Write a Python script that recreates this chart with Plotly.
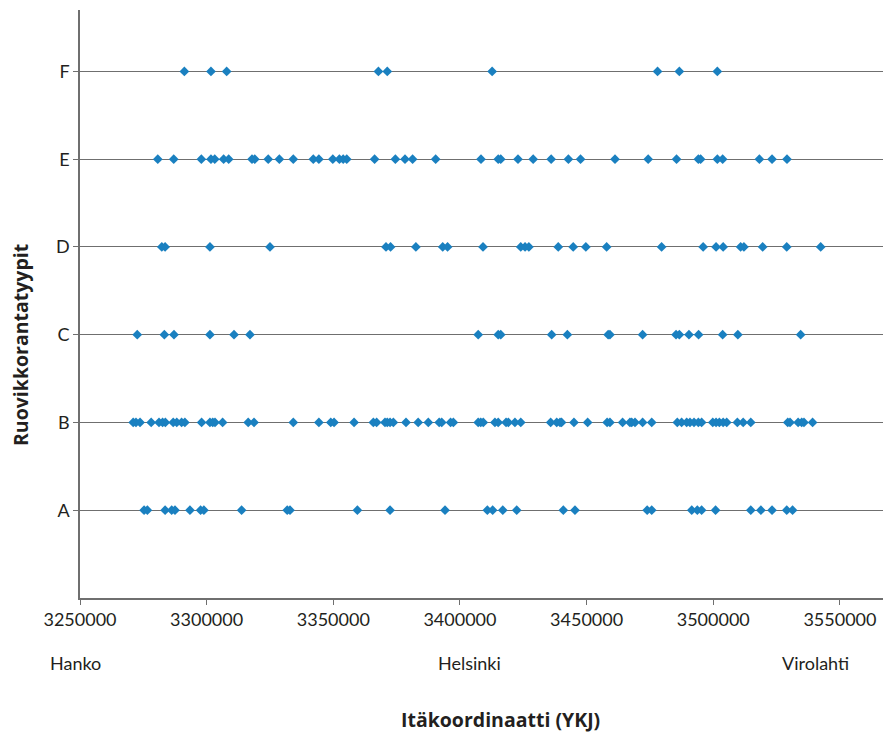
import plotly.graph_objects as go

# Data (x-coordinates in thousands, YKJ easting)
categories = ["A", "B", "C", "D", "E", "F"]

A_x = [3275.3, 3276.6, 3283.6, 3286.2, 3287.5, 3293.4, 3297.6, 3298.9, 3313.8, 3331.8,
       3332.9, 3359.5, 3372.4, 3394.1, 3410.8, 3412.9, 3416.9, 3422.4, 3440.8, 3445.4,
       3473.9, 3475.7, 3491.5, 3493.7, 3495.4, 3500.9, 3514.8, 3518.8, 3523.2, 3529.0, 3531.3]

B_x = [3271.0, 3272.1, 3273.7, 3278.1, 3281.2, 3282.6, 3283.7, 3286.8, 3288.2, 3290.1,
       3291.4, 3298.0, 3301.3, 3302.4, 3303.3, 3306.3, 3316.4, 3318.7, 3334.2, 3344.3,
       3349.0, 3350.3, 3358.2, 3365.8, 3367.1, 3370.4, 3371.3, 3372.4, 3373.7, 3378.7,
       3383.5, 3387.5, 3391.8, 3392.8, 3396.3, 3397.4, 3407.2, 3408.2, 3409.2, 3413.8,
       3415.1, 3418.2, 3419.1, 3421.7, 3424.0, 3435.8, 3438.2, 3439.5, 3440.1, 3445.0,
       3450.4, 3458.1, 3459.2, 3464.2, 3467.1, 3467.8, 3469.1, 3472.1, 3475.7, 3485.8,
       3487.5, 3489.5, 3490.8, 3492.4, 3494.1, 3495.4, 3499.8, 3501.1, 3502.4, 3503.9,
       3505.3, 3509.5, 3511.8, 3514.8, 3529.4, 3530.3, 3533.5, 3534.9, 3535.8, 3539.2]

C_x = [3272.6, 3283.3, 3287.1, 3301.3, 3310.8, 3317.1, 3407.2, 3415.1, 3416.1, 3436.2,
       3442.4, 3458.5, 3459.2, 3472.1, 3485.3, 3486.6, 3490.4, 3494.2, 3503.7, 3509.7, 3534.5]

D_x = [3282.3, 3283.6, 3301.3, 3325.0, 3370.8, 3372.6, 3382.6, 3393.2, 3395.1, 3409.1,
       3424.0, 3425.7, 3427.2, 3438.8, 3444.7, 3449.7, 3457.9, 3479.6, 3496.0, 3501.1,
       3503.9, 3510.8, 3512.1, 3519.5, 3529.0, 3542.4]

E_x = [3280.7, 3287.0, 3297.9, 3301.7, 3303.2, 3306.7, 3308.7, 3317.9, 3319.0, 3324.3,
       3328.7, 3334.2, 3342.1, 3344.3, 3349.8, 3352.4, 3353.9, 3355.3, 3366.3, 3374.5,
       3378.3, 3381.3, 3390.4, 3408.3, 3415.1, 3416.1, 3422.9, 3428.9, 3436.0, 3442.8,
       3447.6, 3461.2, 3474.3, 3485.5, 3494.1, 3495.0, 3501.6, 3503.7, 3518.2, 3523.2, 3529.1]

F_x = [3291.2, 3301.7, 3307.9, 3367.8, 3371.3, 3412.7, 3478.0, 3486.6, 3501.6]

series_x = [A_x, B_x, C_x, D_x, E_x, F_x]

x_ticks = [3250000, 3300000, 3350000, 3400000, 3450000, 3500000, 3550000]
place_names = ["Hanko", "Helsinki", "Virolahti"]

FONT = "Lato"
TITLE_FONT = "Open Sans"
COLOR = "#1a80c0"

xs, ys = [], []
for i, vals in enumerate(series_x):
    for v in vals:
        xs.append(v * 1000)
        ys.append(i + 1)

fig = go.Figure()
fig.add_trace(go.Scatter(
    x=xs, y=ys, mode="markers",
    marker=dict(symbol="diamond", size=7.5, color=COLOR, line=dict(width=0)),
    showlegend=False, hoverinfo="x+y",
))

fig.update_layout(
    width=886, height=734,
    margin=dict(l=80, r=3, t=10, b=136),
    paper_bgcolor="white", plot_bgcolor="white",
    font=dict(family=FONT, size=18, color="#231f20"),
    xaxis=dict(
        range=[3250000, 3567000],
        tickvals=x_ticks,
        ticktext=[str(t) for t in x_ticks],
        showgrid=False, zeroline=False,
        showline=True, linecolor="#6f6f6f", linewidth=1.5,
        ticks="outside", ticklen=5, tickcolor="#6f6f6f",
        tickfont=dict(size=18),
    ),
    yaxis=dict(
        range=[0, 6.7],
        tickvals=list(range(1, 7)),
        ticktext=categories,
        showgrid=True, gridcolor="#6f6f6f", gridwidth=1.2,
        zeroline=False,
        showline=True, linecolor="#6f6f6f", linewidth=1.5,
        ticks="outside", ticklen=5, tickcolor="#6f6f6f",
        tickfont=dict(size=18),
    ),
)

# place names under the axis
place_x = [48, 469, 815]
place_anchor = ["left", "center", "center"]
for name, px_, anc in zip(place_names, place_x, place_anchor):
    fig.add_annotation(
        text=name, xref="paper", yref="paper",
        x=(px_ - 80) / 803, y=-(663 - 598) / 588,
        xanchor=anc, yanchor="middle", showarrow=False,
        font=dict(size=18, family=FONT),
    )

# x-axis title
fig.add_annotation(
    text="<b>Itäkoordinaatti (YKJ)</b>", xref="paper", yref="paper",
    x=(500 - 80) / 803, y=-(720 - 598) / 588,
    xanchor="center", yanchor="middle", showarrow=False,
    font=dict(size=19.5, family=TITLE_FONT),
)

# y-axis title
fig.add_annotation(
    text="<b>Ruovikkorantatyypit</b>", xref="paper", yref="paper",
    x=-(80 - 20) / 803, y=(598 - 345) / 588,
    xanchor="center", yanchor="middle", showarrow=False, textangle=-90,
    font=dict(size=19.5, family=TITLE_FONT),
)

fig.write_html("out.html")
